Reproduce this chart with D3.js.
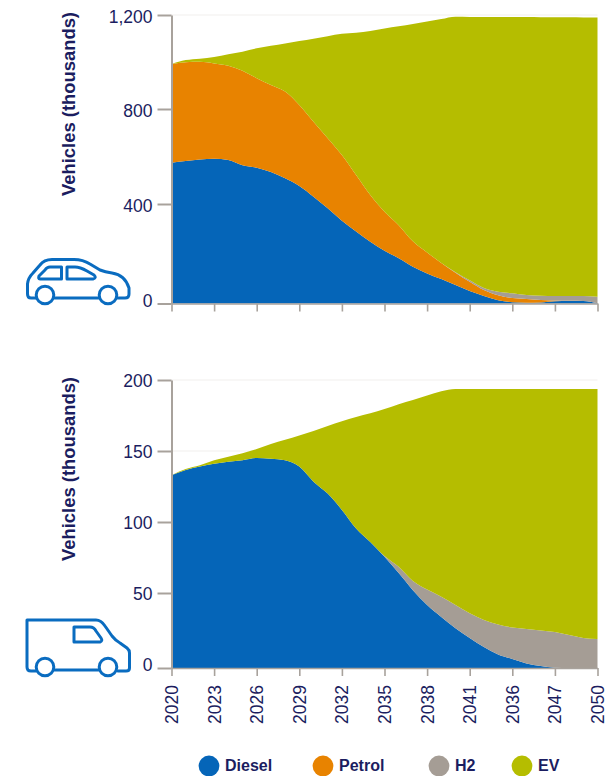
<!DOCTYPE html>
<html>
<head>
<meta charset="utf-8">
<script src="https://cdn.jsdelivr.net/npm/d3@7"></script>
<style>
  body { margin: 0; background: #fff; }
  svg { display: block; }
  text { font-family: "Liberation Sans", Arial, sans-serif; fill: #1b1d60; }
</style>
</head>
<body>
<div id="chart"></div>
<script>
// Data, one value per year 2020-2050
var years = d3.range(2020, 2051);
var seriesNames = ["Diesel", "Petrol", "H2", "EV"];
var seriesColors = ["#0565b8", "#e88300", "#a59d95", "#b5bd00"];

var yearTicks = [2020, 2023, 2026, 2029, 2032, 2035, 2038, 2041, 2044, 2047, 2050];
// the original labels the 2044 tick as 2036
var yearLabels = ["2020", "2023", "2026", "2029", "2032", "2035", "2038", "2041", "2036", "2047", "2050"];

var carDiesel = [574,581,587,591,585,563,553,535,508,476,431,383,333,289,248,212,182,148,121,98,74,50,30,13,5,3,4,9,10,10,1];
var carPetrol = [417,418,414,403,399,400,378,367,366,341,315,294,273,233,190,157,133,102,84,65,50,37,24,20,17,15,10,3,1,0,0];
var carH2 = [0,0,0,0,0,0,0,0,0,0,0,0,0,0,0,0,0,0,0,0,2,6,8,14,19,16,17,18,19,20,26];
var carEV = [0,9,13,27,49,81,127,167,205,272,353,433,514,602,694,774,837,912,967,1020,1067,1099,1130,1145,1150,1157,1159,1160,1160,1159,1162];

var vanDiesel = [133,136.6,139,141,142.5,143.5,145,144.6,143.5,139,128.4,120,108.5,95.5,86,75.6,64,52,42,34,26.5,20,14,9,6,3,1.3,0.2,0,0,0];
var vanPetrol = [0,0,0,0,0,0,0,0,0,0,0,0,0,0,0,0,0,0,0,0,0,0,0,0,0,0,0,0,0,0,0];
var vanH2 = [0,0,0,0,0,0,0,0,0,0,0,0,0,0,0,0.5,4.5,6.5,10.4,13.5,15.5,16.5,18,20,21,23,23.7,23.8,22,20,19.3];
var vanEV = [0,0.7,1,2.5,3.5,5,6.4,10.4,14.5,22,35.6,47.6,62.5,78.5,90.5,103.5,114.5,127.5,136.6,144.5,151.7,157.2,161.7,164.7,166.7,167.7,168.7,169.7,171.7,173.7,174.4];

var carTicks = [0, 400, 800, 1200];
var vanTicks = [0, 50, 100, 150, 200];

var svg = d3.select("#chart").append("svg")
    .attr("width", 613)
    .attr("height", 776);

var axisGrey = "#a8a29c";
var blue = "#0a6cc0";

var x = d3.scaleLinear().domain([2020, 2050]).range([171.5, 597.5]);

function drawPanel(values, yTicks, yRange, showLabels, labelShift, zeroShift) {
    var y = d3.scaleLinear().domain(yTicks).range(yRange);

    var rows = years.map(function(yr, i) {
        var row = { year: yr };
        seriesNames.forEach(function(name, s) { row[name] = values[s][i]; });
        return row;
    });
    var stacked = d3.stack().keys(seriesNames)(rows);

    var area = d3.area()
        .x(function(d) { return x(d.data.year); })
        .y0(function(d) { return y(d[0]); })
        .y1(function(d) { return y(d[1]); })
        .curve(d3.curveMonotoneX);

    var g = svg.append("g");

    // faint gridlines behind the areas
    g.selectAll(".grid")
        .data(yTicks.slice(1))
        .enter().append("line")
        .attr("x1", x(2020))
        .attr("x2", x(2050))
        .attr("y1", function(d) { return y(d); })
        .attr("y2", function(d) { return y(d); })
        .attr("stroke", "#f1efed");

    g.selectAll(".layer")
        .data(stacked)
        .enter().append("path")
        .attr("d", area)
        .attr("fill", function(d, i) { return seriesColors[i]; });

    var yAxis = d3.axisLeft(y)
        .tickValues(yTicks)
        .tickFormat(d3.format(","))
        .tickSize(14)
        .tickPadding(5)
        .tickSizeOuter(0);
    var gy = g.append("g")
        .attr("transform", "translate(" + x(2020) + ",0)")
        .call(yAxis);
    gy.selectAll("path, line").attr("stroke", axisGrey).attr("stroke-width", 2);
    gy.selectAll("text")
        .attr("font-size", 17.5)
        .style("font-family", "Liberation Sans")
        // the zero sits a little above its tick in the original
        .attr("y", function(d) { return d === 0 ? zeroShift : labelShift; });

    var xAxis = d3.axisBottom(x)
        .tickValues(yearTicks)
        .tickFormat(function(d, i) { return showLabels ? yearLabels[i] : ""; })
        .tickSize(8)
        .tickSizeOuter(0);
    var gx = g.append("g")
        .attr("transform", "translate(0," + yRange[0] + ")")
        .call(xAxis);
    gx.selectAll("path, line").attr("stroke", axisGrey).attr("stroke-width", 1.6);
    gx.selectAll("text")
        .attr("font-size", 17.5)
        .style("font-family", "Liberation Sans")
        .attr("text-anchor", "end")
        .attr("transform", "translate(6,17) rotate(-90)")
        .attr("x", 0)
        .attr("y", 0)
        .attr("dy", 0);

    g.append("text")
        .attr("transform", "translate(74.5," + (y(yTicks[yTicks.length - 1]) - 3) + ") rotate(-90)")
        .attr("text-anchor", "end")
        .attr("font-size", 18.4)
        .attr("font-weight", "bold")
        .text("Vehicles (thousands)");
}

drawPanel([carDiesel, carPetrol, carH2, carEV], carTicks, [303.5, 204, 109, 15], false, 1.5, -3);
drawPanel([vanDiesel, vanPetrol, vanH2, vanEV], vanTicks, [668, 593, 522, 451, 380], true, 0.5, -3.5);

// icons
var icons = svg.append("g")
    .attr("fill", "none")
    .attr("stroke", blue)
    .attr("stroke-width", 3)
    .attr("stroke-linejoin", "round")
    .attr("stroke-linecap", "round");

var iconPaths = [
    // car
    "M36,298 L31,298 Q27.5,298 27.5,294 L27.5,284 Q28,278 33,273 L40,265 Q44,259.5 52,259.5 L74,259.5 Q83,259.5 90,264 L100,270 Q105,272 112,273 Q125,275 129,288 L129,294 Q129,298 125,298 L118,298 M55,298 L98,298",
    "M40,279 L61.5,279 L61.5,267 L50,267 Q47,267 45,270 L39,276 Q38,279 40,279 Z",
    "M67,267 L67,279 L93,279 Q97,278 94,275 L87,271 Q80,267 75,267 Z",
    // van
    "M36,671 L31,671 Q27,671 27,667 L27,620 L96,620 Q101,620 105,626 L112,636 Q116,641 120,643 L127,648 Q129.5,650 129.5,653 L129.5,668 Q129.5,671 126,671 L118,671 M55,670 L98,670",
    "M74,627 L74,642 L100,642 Q103,641 101,638 L96,631 Q94,627 90,627 Z"
];
icons.selectAll("path")
    .data(iconPaths)
    .enter().append("path")
    .attr("d", function(d) { return d; });

var wheelX = [45, 108];
var wheelY = [295, 667];
wheelY.forEach(function(wy) {
    wheelX.forEach(function(wx) {
        icons.append("circle").attr("cx", wx).attr("cy", wy).attr("r", 8.8).attr("fill", "#fff");
    });
});

// legend
var legendX = d3.scaleOrdinal().domain(seriesNames).range([209, 323, 439, 522]);
var legend = svg.selectAll(".legend")
    .data(seriesNames)
    .enter().append("g")
    .attr("transform", function(d) { return "translate(" + legendX(d) + ",766)"; });

legend.append("circle")
    .attr("r", 10.4)
    .attr("fill", function(d, i) { return seriesColors[i]; });

legend.append("text")
    .attr("x", 16)
    .attr("y", 5)
    .attr("font-size", 16)
    .attr("font-weight", "bold")
    .text(function(d) { return d; });
</script>
</body>
</html>
